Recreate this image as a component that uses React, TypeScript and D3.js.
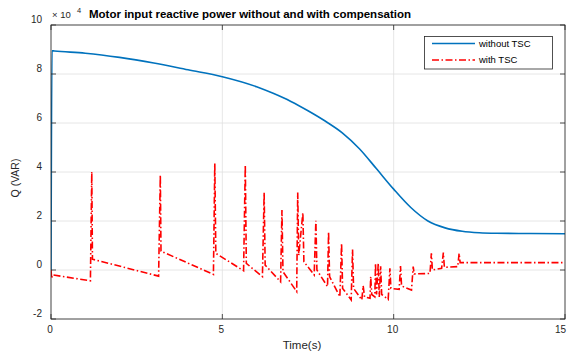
import React from "react";
import * as d3 from "d3";

const blueT = [0, 0.03, 0.1, 1, 2, 3, 4, 5, 6, 6.5, 7, 7.5, 8, 8.5, 9, 9.5, 10, 10.5, 11, 11.5, 12, 12.5, 13, 14, 15];
const blueQ = [0, 8.95, 8.94, 8.85, 8.68, 8.45, 8.17, 7.89, 7.48, 7.2, 6.88, 6.5, 6.08, 5.6, 4.95, 4.13, 3.3, 2.55, 2.0, 1.72, 1.58, 1.52, 1.5, 1.49, 1.48];

const redT = [0, 0.02, 0.04, 1.15, 1.19, 1.21, 3.14, 3.19, 3.21, 4.74, 4.78, 4.81, 5.62, 5.67, 5.7, 6.17, 6.22, 6.25, 6.7, 6.74, 6.77, 7.17, 7.2, 7.23, 7.35, 7.38, 7.68, 7.73, 7.76, 8.07, 8.1, 8.13, 8.43, 8.48, 8.51, 8.76, 8.8, 8.83, 9.07, 9.11, 9.15, 9.31, 9.33, 9.36, 9.45, 9.47, 9.5, 9.55, 9.58, 9.62, 9.65, 9.84, 9.89, 9.92, 10.16, 10.2, 10.23, 10.52, 10.57, 10.6, 11.06, 11.1, 11.13, 11.4, 11.45, 11.48, 11.87, 11.91, 11.94, 15];
const redQ = [0, -0.35, -0.2, -0.44, 4.01, 0.44, -0.25, 3.88, 0.77, -0.18, 4.35, 0.68, -0.03, 4.29, 0.27, -0.27, 3.16, 0.2, -0.48, 2.45, -0.07, -0.88, 3.16, 0.6, 2.34, 0.34, -0.2, 2.01, 0, -0.68, 1.56, -0.27, -1.09, 1.09, -0.75, -1.22, 0.84, -0.75, -1.22, -0.65, -1.1, -1.15, -0.27, -1.0, -1.1, 0.27, -1.0, 0.27, -1.1, 0.15, -1.0, -1.2, 0.07, -0.75, -0.79, 0.16, -0.65, -0.82, 0.14, -0.16, -0.14, 0.68, 0, 0.07, 0.71, 0.11, 0.14, 0.68, 0.3, 0.3];

const xTicks = [0, 5, 10, 15];
const yTicks = [-2, 0, 2, 4, 6, 8, 10];
const titleText = "Motor input reactive power without and with compensation";
const legendLabels = ["without TSC", "with TSC"];

export default function App() {
  const W = 567, H = 356;
  const L = 51, R = 565, T = 25, B = 319;
  const x = d3.scaleLinear().domain([0, 15]).range([L, R]);
  const y = d3.scaleLinear().domain([-2, 10]).range([B, T]);
  const axisColor = "#262626";
  const font = "Liberation Sans, Arial, Helvetica, sans-serif";

  const line = d3.line<[number, number]>().x(d => x(d[0])).y(d => y(d[1]));
  const blueData: [number, number][] = blueT.map((t, i) => [t, blueQ[i]]);
  const redData: [number, number][] = redT.map((t, i) => [t, redQ[i]]);
  const blueLine = d3.line<[number, number]>().x(d => x(d[0])).y(d => y(d[1])).curve(d3.curveMonotoneX);

  return (
    <svg width={W} height={H} style={{ position: "absolute", left: 0, top: 0, background: "#fff" }} fontFamily={font}>
      <rect x={0} y={0} width={W} height={H} fill="#fff" />
      {xTicks.map(t => (
        <line key={"gx" + t} x1={x(t)} x2={x(t)} y1={T} y2={B} stroke="#dfdfdf" strokeWidth={0.8} />
      ))}
      {yTicks.map(t => (
        <line key={"gy" + t} x1={L} x2={R} y1={y(t)} y2={y(t)} stroke="#dfdfdf" strokeWidth={0.8} />
      ))}
      <defs>
        <clipPath id="clip">
          <rect x={L} y={T} width={R - L} height={B - T} />
        </clipPath>
      </defs>
      <g clipPath="url(#clip)">
        <path d={line(redData) || ""} fill="none" stroke="#ff0000" strokeWidth={1.6} strokeDasharray="7,2.5,1.5,2.5" />
        <path d={blueLine(blueData) || ""} fill="none" stroke="#0072BD" strokeWidth={1.6} />
      </g>
      <rect x={L} y={T} width={R - L} height={B - T} fill="none" stroke={axisColor} strokeWidth={0.8} />
      {xTicks.map(t => (
        <g key={"xt" + t}>
          <line x1={x(t)} x2={x(t)} y1={B} y2={B - 5} stroke={axisColor} strokeWidth={0.8} />
          <line x1={x(t)} x2={x(t)} y1={T} y2={T + 5} stroke={axisColor} strokeWidth={0.8} />
          <text x={t === 15 ? 566 : x(t) - 1} y={333} textAnchor={t === 15 ? "end" : "middle"} fontSize={10} fill={axisColor}>{t}</text>
        </g>
      ))}
      {yTicks.map(t => (
        <g key={"yt" + t}>
          <line x1={L} x2={L + 5} y1={y(t)} y2={y(t)} stroke={axisColor} strokeWidth={0.8} />
          <line x1={R} x2={R - 5} y1={y(t)} y2={y(t)} stroke={axisColor} strokeWidth={0.8} />
          <text x={42} y={y(t) - 2} textAnchor="end" fontSize={10} fill={axisColor}>{t}</text>
        </g>
      ))}
      <text x={52} y={18} fontSize={9.5} fill={axisColor}>× 10</text>
      <text x={77} y={13} fontSize={7.5} fill={axisColor}>4</text>
      <text x={89} y={18} fontSize={11.5} fontWeight="bold" fill="#000">{titleText}</text>
      <text x={302} y={349} textAnchor="middle" fontSize={11.5} fill={axisColor}>Time(s)</text>
      <text transform={`translate(19,178) rotate(-90)`} textAnchor="middle" fontSize={10.5} fill={axisColor}>Q (VAR)</text>
      <rect x={424.5} y={36.5} width={128} height={32.5} fill="#fff" stroke={axisColor} strokeWidth={0.8} />
      <line x1={432} x2={475} y1={43.5} y2={43.5} stroke="#0072BD" strokeWidth={1.6} />
      <line x1={432} x2={475} y1={60} y2={60} stroke="#ff0000" strokeWidth={1.6} strokeDasharray="7,2.5,1.5,2.5" />
      <text x={479} y={46.5} fontSize={9.5} fill="#000">{legendLabels[0]}</text>
      <text x={479} y={63} fontSize={9.5} fill="#000">{legendLabels[1]}</text>
    </svg>
  );
}
